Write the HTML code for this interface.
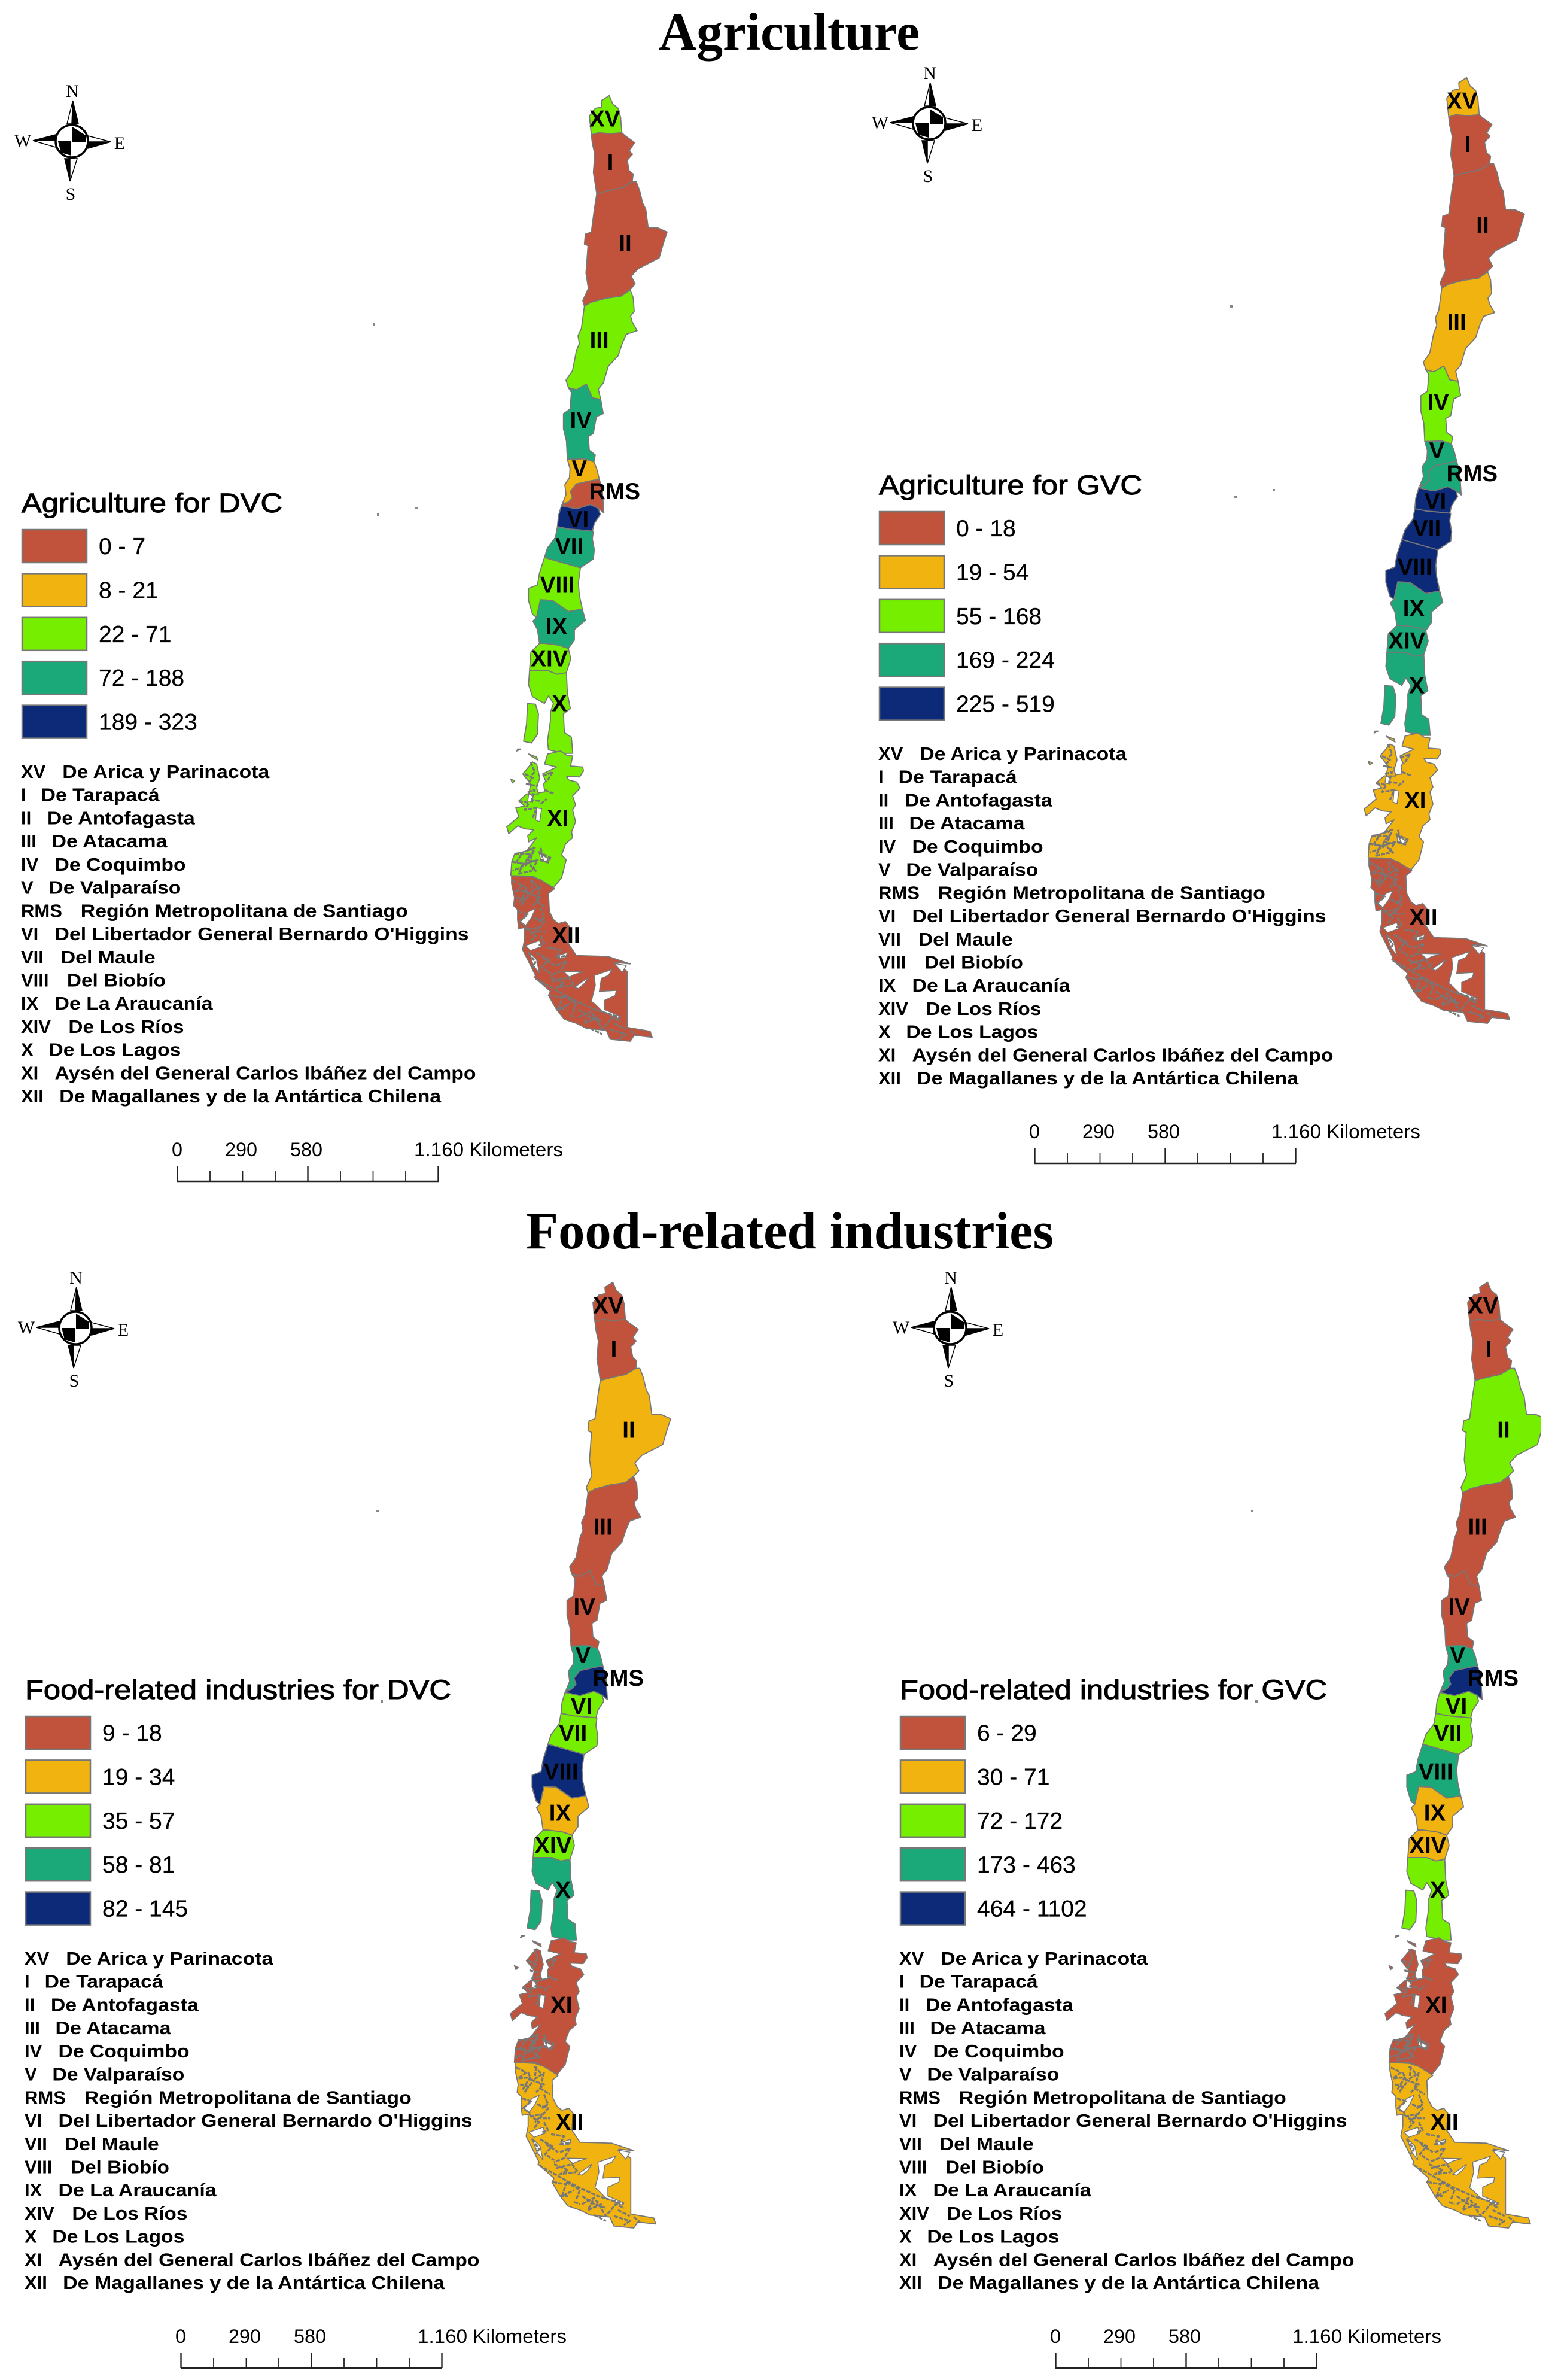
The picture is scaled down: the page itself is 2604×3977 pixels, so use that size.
<!DOCTYPE html>
<html lang="en">
<head>
<meta charset="utf-8">
<title>Agriculture and Food-related industries maps of Chile</title>
<style>
html,body{margin:0;padding:0;background:#fff;width:2604px;height:3977px;overflow:hidden}
svg{display:block}
text{font-family:"Liberation Sans",sans-serif;fill:#000}
.serif{font-family:"Liberation Serif",serif}
</style>
</head>
<body>
<svg id="figure" xmlns="http://www.w3.org/2000/svg" width="2604" height="3977" viewBox="0 0 2604 3977">
<rect width="2604" height="3977" fill="#fff"/>
<text class="serif" x="1101" y="83" font-size="89" font-weight="bold" textLength="436" lengthAdjust="spacingAndGlyphs">Agriculture</text>
<text class="serif" x="879" y="2086" font-size="88" font-weight="bold" textLength="882" lengthAdjust="spacingAndGlyphs">Food-related industries</text>
</svg>
<script>
// ---- data ----
const regionIds = ['XV','I','II','III','IV','V','RMS','VI','VII','VIII','IX','XIV','X','XI','XII'];
const regionNames = ['De Arica y Parinacota','De Tarapacá','De Antofagasta','De Atacama','De Coquimbo','De Valparaíso','Región Metropolitana de Santiago',"Del Libertador General Bernardo O'Higgins",'Del Maule','Del Biobío','De La Araucanía','De Los Ríos','De Los Lagos','Aysén del General Carlos Ibáñez del Campo','De Magallanes y de la Antártica Chilena'];
const classColors = ['#C1533C','#F0B310','#76EE00','#1CA97A','#0C2A78'];

const agricultureDvcClass = [2,0,0,2,3,1,0,4,3,2,3,2,2,2,0];
const agricultureGvcClass = [1,0,0,1,2,3,3,4,4,4,3,3,3,1,0];
const foodDvcClass        = [0,0,1,0,0,3,4,2,2,4,1,2,3,0,1];
const foodGvcClass        = [0,0,2,0,0,3,4,2,2,3,1,1,2,0,1];

const agricultureDvcLegend = ['0 - 7','8 - 21','22 - 71','72 - 188','189 - 323'];
const agricultureGvcLegend = ['0 - 18','19 - 54','55 - 168','169 - 224','225 - 519'];
const foodDvcLegend = ['9 - 18','19 - 34','35 - 57','58 - 81','82 - 145'];
const foodGvcLegend = ['6 - 29','30 - 71','72 - 172','173 - 463','464 - 1102'];

const panelTitles = ['Agriculture for DVC','Agriculture for GVC','Food-related industries for DVC','Food-related industries for GVC'];
const scaleLabels = ['0','290','580','1.160 Kilometers'];

// ---- layout ----
const panels = [
  {key:'agriculture-dvc',dx:0,dy:0,cls:agricultureDvcClass,legend:agricultureDvcLegend,title:panelTitles[0],tw:436},
  {key:'agriculture-gvc',dx:1433,dy:-30,cls:agricultureGvcClass,legend:agricultureGvcLegend,title:panelTitles[1],tw:440},
  {key:'food-dvc',dx:6,dy:1983,cls:foodDvcClass,legend:foodDvcLegend,title:panelTitles[2],tw:712},
  {key:'food-gvc',dx:1468,dy:1983,cls:foodGvcClass,legend:foodGvcLegend,title:panelTitles[3],tw:714}
];
const frames = {
  a:(x,y)=>[800+x/3,130+y/1.96],
  b:(x,y)=>[800+x/3,900+y/1.742],
  c:(x,y)=>[820+x/3,1400+y/3],
  d:(x,y)=>[847+x/3,1210+y/3]
};
const shapes = {
 XV:[['a','615,75 655,58 672,85 700,100 712,130 718,180 660,183 600,180 565,187 555,125 585,100 618,95']],
 I:[['a','565,187 600,180 660,183 718,180 735,190 782,212 755,240 772,250 745,270 755,305 775,315 770,340 720,360 650,370 592,380 585,350 575,310 582,250 570,215']],
 II:[['a','592,380 650,370 720,360 770,340 790,340 808,370 822,410 838,430 850,490 900,492 945,505 925,545 905,590 860,605 800,625 765,650 785,675 765,690 735,705 715,715 640,722 565,735 530,748 522,730 550,690 538,640 548,550 530,545 535,512 565,505 580,430']],
 III:[['a','530,748 565,735 640,722 715,715 760,695 775,720 780,765 762,780 770,800 795,828 740,840 720,870 700,910 650,945 625,1000 600,1020 612,1053 570,1048 540,1003 490,1022 450,1015 438,990 470,960 490,895 505,870 498,845 515,820']],
 IV:[['a','450,1015 490,1022 540,1003 570,1048 612,1053 625,1100 590,1110 575,1165 550,1175 555,1220 585,1235 578,1258 530,1248 445,1250 440,1190 425,1150 425,1100 458,1085 465,1030']],
 V:[['a','445,1250 530,1248 578,1258 592,1280 605,1315 560,1320 490,1330 460,1355 470,1375 450,1390 420,1395 438,1365 432,1332 455,1310 458,1280']],
 RMS:[['a','450,1390 470,1375 460,1355 490,1330 560,1320 605,1315 620,1350 628,1425 600,1410 560,1398 490,1415 415,1400']],
 VI:[['a','415,1402 490,1412 560,1398 600,1410 610,1430 580,1460 570,1485 500,1480 455,1478 395,1470 400,1435']],
 VII:[['a','395,1470 455,1478 575,1485 570,1510 580,1545 575,1576 510,1605 420,1588 330,1571 345,1540 385,1505']],
 VIII:[['b','330,55 420,70 510,85 500,130 505,165 520,205 450,212 370,180 310,178 290,230 270,220 250,180 250,145 295,135 305,100']],
 IX:[['b','310,178 370,180 450,212 520,205 535,238 480,265 480,295 450,320 400,310 330,305 305,305 295,265 272,240 290,230']],
 XIV:[['b','305,305 330,305 400,310 450,320 462,350 440,390 395,395 350,385 255,385 262,330']],
 X:[['b','255,385 350,385 395,395 440,390 445,450 460,495 425,510 430,565 465,578 472,625 430,625 350,615 345,590 360,530 360,505 375,480 350,458 330,480 270,460 250,425'],
    ['b','245,480 285,482 300,510 295,570 265,595 225,590 240,540']],
 XI:[['d','205,150 270,135 300,155 330,160 320,210 380,215 385,235 365,265 300,262 310,280 350,290 368,320 330,360 345,405 330,430 345,490 325,540 330,570 295,600 275,655 298,680 275,770 235,820 130,762 20,760 25,690 40,650 100,635 150,570 110,590 105,560 135,530 90,525 55,510 10,550 0,515 60,465 45,420 90,410 60,385 100,350 190,340 185,300 195,285 180,250 250,215 190,200'],
     ['d','80,250 130,190 150,200 165,270 150,320 160,350 110,350 120,300'],
     ['d','55,125 70,125 50,135'],
     ['d','20,275 40,285 28,295'],
     ['d','110,150 150,165 155,180 120,160']],
 XII:[['c','105,190 205,195 250,210 320,255 290,280 295,370 315,410 340,430 375,420 395,445 390,530 430,590 590,595 640,612 700,632 625,625 685,670 685,950 800,970 810,1000 720,990 700,1020 600,1010 580,965 480,955 430,930 370,910 330,860 290,790 300,770 220,700 225,690 180,600 160,560 170,510 170,450 140,455 135,410 135,360 115,340 120,300 105,230']]
};
const waterHoles = [
 ['c','365,670 465,672 420,685 395,698'],
 ['c','420,750 490,700 470,730 440,755'],
 ['c','620,630 680,640 660,675'],
 ['c','520,690 610,660 590,690 555,705 545,770 630,765 625,790 570,815 570,860 650,895 640,905 560,870 520,830 505,820 525,740'],
 ['c','190,570 230,610 245,680 215,640'],
 ['c','190,370 225,355 205,400 175,440 150,420'],
 ['c','175,540 245,515 255,545 200,565'],
 ['c','340,590 385,575 375,600 345,605'],
 ['c','245,80 270,85 275,115 250,105'],
 ['d','150,420 175,425 165,490 145,480'],
 ['d','170,650 215,680 190,690'],
 ['d','110,350 130,360 130,390 105,385']
];
const coastLines = [
 ['d','90,250 130,270 100,300 150,310'],['d','120,190 140,240 115,265'],['d','105,340 140,330 125,380 165,385'],
 ['d','60,385 110,395 90,430 150,420 130,470'],['d','180,260 230,240 200,290'],['d','190,330 235,348'],
 ['d','170,400 200,375'],['d','40,650 120,650 90,700 160,680 215,695'],['d','25,690 80,700 60,750 125,735'],
 ['d','100,635 140,620 110,700 150,740'],['d','170,620 180,670'],
 ['c','120,80 160,75 130,120 180,135 110,165'],['c','190,50 215,70 180,110 230,120 205,170'],['c','240,70 300,100 270,130'],
 ['c','110,215 160,240 120,270 180,265 140,330'],['c','200,210 240,250 190,280 250,300 210,340'],['c','250,240 230,320 280,350'],
 ['c','130,300 170,310 150,345'],['c','170,240 190,290 165,320'],['c','210,210 205,260'],
 ['c','140,370 185,385 145,420 180,445'],['c','215,400 270,420 230,470 280,470'],['c','175,450 225,490 200,520'],
 ['c','250,350 270,400 240,420'],['c','180,460 240,450 205,490'],
 ['c','250,490 270,530 240,540'],['c','285,550 350,560 330,600 385,590'],['c','190,575 225,625 210,650'],
 ['c','230,575 290,610 255,650 300,680'],['c','330,640 380,620 350,670 300,690'],['c','225,705 330,765 430,820 520,860 650,900'],
 ['c','300,700 370,730 330,750 410,740'],['c','295,790 360,800 340,860 400,830'],['c','360,790 430,830 410,880'],
 ['c','440,900 500,870 470,930 540,900'],['c','510,880 560,960 610,900 650,920'],['c','600,960 680,985 650,1005'],
 ['c','500,955 560,985'],['c','330,860 370,860'],['c','700,965 730,990'],['c','400,890 430,900'],
 ['c','260,600 320,640'],['c','310,720 390,700 420,740'],['c','440,860 500,900 560,920'],['c','620,930 680,960']
];
const strayDots = [[623,540],[630,858],[694,847]];
const labelPos = {
 XV:['a',632,160],I:['a',660,302],II:['a',735,567],III:['a',605,885],IV:['a',512,1147],V:['a',505,1305],RMS:['a',682,1380],
 VI:['a',498,1472],VII:['a',455,1560],VIII:['b',395,158],IX:['b',390,278],XIV:['b',355,372],X:['b',405,503],XI:['b',397,837],XII:['b',438,1178]
};
const nameStart = [41,27,31,34,36,32,53,36,40,44,36,45,32,36,39];
const nameEnd = [177,105,128,110,122,119,268,308,102,109,140,121,119,313,290];
const SVGNS = 'http://www.w3.org/2000/svg';
const svg = document.getElementById('figure');

function mk(tag,attrs,parent){
  const e=document.createElementNS(SVGNS,tag);
  for(const k in attrs)e.setAttribute(k,attrs[k]);
  parent.appendChild(e);
  return e;
}
function pts(spec){
  const f=frames[spec[0]];
  return spec[1].split(' ').map(s=>{const q=s.split(',').map(Number);const r=f(q[0],q[1]);return r[0].toFixed(1)+','+r[1].toFixed(1);}).join(' ');
}
function txt(s,attrs,parent){
  const e=mk('text',attrs,parent);
  e.textContent=s;
  return e;
}

panels.forEach(function(panel){
  const g=mk('g',{transform:'translate('+panel.dx+','+panel.dy+')'},svg);
  
  

  // map regions
  const map=mk('g',{},g);
  
  
  regionIds.forEach(function(id,i){
    const rg=mk('g',{},map);
    
    
    shapes[id].forEach(function(spec){
      mk('polygon',{points:pts(spec),fill:classColors[panel.cls[i]],stroke:'#777',"stroke-width":'1.8',"stroke-linejoin":'round'},rg);
    });
  });
  // fjords
  const fj=mk('g',{},map);
  
  
  waterHoles.forEach(function(spec){
    mk('polygon',{points:pts(spec),fill:'#fff',stroke:'#777',"stroke-width":'1.5'},fj);
  });
  coastLines.forEach(function(spec){
    mk('polyline',{points:pts(spec),fill:'none',stroke:'#777',"stroke-width":'3.2',"stroke-dasharray":'7 2',"stroke-linejoin":'round'},fj);
  });
  strayDots.forEach(function(d){
    mk('rect',{x:d[0],y:d[1],width:4,height:4,fill:'#888'},fj);
  });
  // region labels
  regionIds.forEach(function(id){
    const lp=labelPos[id];
    const p=frames[lp[0]](lp[1],lp[2]);
    const t=txt(id,{x:p[0],y:p[1],"font-size":'38.5',"font-weight":'bold',"text-anchor":'middle'},map);
    
    
  });

  // legend
  const lg=mk('g',{},g);
  
  
  const lt=txt(panel.title,{x:36,y:856,"font-size":'45',stroke:'#000',"stroke-width":'1',textLength:panel.tw,lengthAdjust:'spacingAndGlyphs'},lg);
  
  
  panel.legend.forEach(function(label,i){
    const y=885+i*73.4;
    const r=mk('rect',{x:37,y:y,width:108,height:55,fill:classColors[i],stroke:'#777',"stroke-width":'2.5'},lg);
    
    
    const t=txt(label,{x:165,y:y+41,"font-size":'39',stroke:'#000',"stroke-width":'0.3'},lg);
    
    
  });

  // region name list
  const rl=mk('g',{},g);
  
  
  regionIds.forEach(function(id,i){
    const y=1300+i*38.72;
    const a=txt(id,{x:35,y:y,"font-size":'31',"font-weight":'bold'},rl);
    
    
    const x0=nameStart[i]*2.543, x1=nameEnd[i]*2.543;
    const b=txt(regionNames[i],{x:x0,y:y,"font-size":'31',"font-weight":'bold',textLength:(x1-x0).toFixed(0),lengthAdjust:'spacingAndGlyphs'},rl);
    
    
  });

  // scale bar
  const sb=mk('g',{},g);
  
  
  mk('line',{x1:296,y1:1974,x2:733,y2:1974,stroke:'#222',"stroke-width":'2.4'},sb);
  for(let k=0;k<=8;k++){
    const tx=296.5+k*54.5;
    mk('line',{x1:tx,x2:tx,y1:(k%4===0?1949:1957),y2:1974,stroke:'#222',"stroke-width":(k%4===0?'2.4':'1.8')},sb);
  }
  const sx=[287,376,485,692];
  const sw=[18,54,54,249];
  scaleLabels.forEach(function(s,i){
    const t=txt(s,{x:sx[i],y:1932,"font-size":'32',textLength:sw[i],lengthAdjust:'spacingAndGlyphs'},sb);
    
    
  });

  // compass
  const c=mk('g',{},g);
  
  
  [
   ['121.7,168 112,207 121,207','#fff'],['121.7,168 131,207 120,207','#000'],
   ['117,303 108,265 118,265','#000'],['117,303 129,265 117,265','#fff'],
   ['55,235 93,225 93,236','#000'],['55,235 93,246 93,235','#fff'],
   ['185,237 147,227 147,238','#fff'],['185,237 147,248 147,237','#000']
  ].forEach(function(a){
    mk('polygon',{points:a[0],fill:a[1],stroke:'#000',"stroke-width":'1.5'},c);
  });
  mk('circle',{cx:120,cy:236,r:27,fill:'#fff',stroke:'#000',"stroke-width":'3.5'},c);
  mk('polygon',{points:'121,212 143,226 143,237 121,237',fill:'#000'},c);
  mk('polygon',{points:'97,236 119,236 119,260 102,255',fill:'#000'},c);
  [['N',121,162],['S',118,334],['W',38,245],['E',200,249]].forEach(function(a){
    const t=txt(a[0],{x:a[1],y:a[2],"font-size":'30',"text-anchor":'middle',class:'serif'},c);
    
    
  });
});

// the source image crops the easternmost tip of Antofagasta in the last panel
const edgeMask = mk('rect',{x:2576,y:2200,width:28,height:300,fill:'#fff'},svg);


</script>
</body>
</html>
